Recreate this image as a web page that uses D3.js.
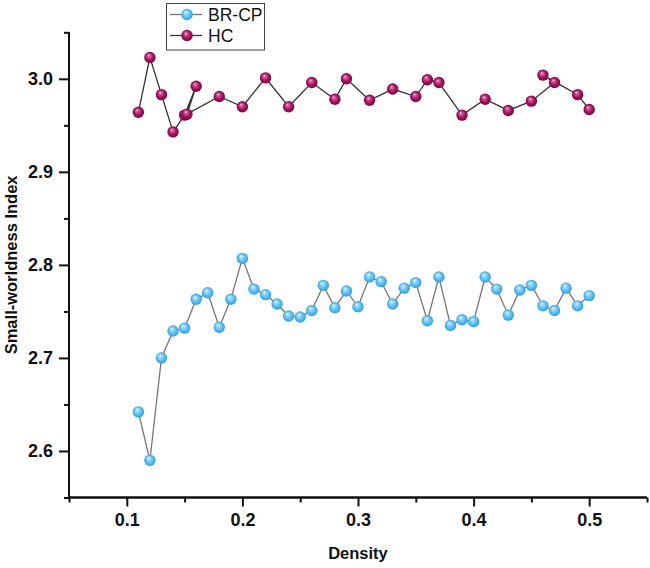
<!DOCTYPE html>
<html>
<head>
<meta charset="utf-8">
<script src="https://cdn.jsdelivr.net/npm/d3@7"></script>
<style>
  html, body { margin: 0; padding: 0; background: #fff; }
  svg { display: block; font-family: "Liberation Sans", Arial, sans-serif; }
</style>
</head>
<body>
<svg id="chart" width="650" height="568"></svg>
<script>
// ---- data ----
const brcpDensity = [0.11,0.12,0.13,0.14,0.15,0.16,0.17,0.18,0.19,0.20,
                     0.21,0.22,0.23,0.24,0.25,0.26,0.27,0.28,0.29,0.30,
                     0.31,0.32,0.33,0.34,0.35,0.36,0.37,0.38,0.39,0.40,
                     0.41,0.42,0.43,0.44,0.45,0.46,0.47,0.48,0.49,0.50];
const brcpValues  = [2.642,2.590,2.700,2.729,2.732,2.763,2.770,2.733,2.763,2.807,
                     2.774,2.768,2.758,2.745,2.744,2.751,2.778,2.754,2.772,2.755,
                     2.787,2.782,2.758,2.775,2.781,2.740,2.787,2.735,2.741,2.739,
                     2.787,2.774,2.746,2.773,2.778,2.756,2.751,2.775,2.756,2.767];
const hcDensity = [0.11,0.12,0.13,0.14,0.15,0.16,0.152,0.18,0.20,0.22,0.24,0.26,
                   0.28,0.29,0.31,0.33,0.35,0.36,0.37,0.39,0.41,0.43,0.45,
                   0.47,0.46,0.49,0.50];
const hcValues  = [2.964,3.023,2.983,2.943,2.961,2.992,2.962,2.981,2.970,3.001,2.970,2.996,
                   2.978,3.000,2.977,2.989,2.981,2.999,2.996,2.961,2.978,2.966,2.976,
                   2.996,3.004,2.983,2.967];
const seriesNames = ["BR-CP", "HC"];
const xTickLabels = [0.1, 0.2, 0.3, 0.4, 0.5];
const yTickLabels = [2.6, 2.7, 2.8, 2.9, 3.0];
const xMinorTicks = [0.05,0.15,0.25,0.35,0.45,0.55];
const yMinorTicks = [2.55,2.65,2.75,2.85,2.95,3.05];

// ---- setup ----
const svg = d3.select("#chart");
const x = d3.scaleLinear().domain([0.05, 0.55]).range([69, 647]);
const y = d3.scaleLinear().domain([2.55, 3.05]).range([497.5, 32.3]);

const defs = svg.append("defs");
function ballGradient(id, hi, mid, edge) {
  const g = defs.append("radialGradient").attr("id", id)
    .attr("cx", "50%").attr("cy", "50%").attr("r", "55%")
    .attr("fx", "38%").attr("fy", "30%");
  g.append("stop").attr("offset", "0%").attr("stop-color", "#ffffff");
  g.append("stop").attr("offset", "18%").attr("stop-color", hi);
  g.append("stop").attr("offset", "60%").attr("stop-color", mid);
  g.append("stop").attr("offset", "100%").attr("stop-color", edge);
}
ballGradient("gBlue", "#a9e0fb", "#58bdf3", "#2f95d8");
ballGradient("gHC", "#d9609e", "#a3125e", "#6a0638");

const series = [
  { name: seriesNames[0], xs: brcpDensity, ys: brcpValues, line: "#7b7474", fill: "url(#gBlue)" },
  { name: seriesNames[1], xs: hcDensity, ys: hcValues, line: "#333333", fill: "url(#gHC)" }
];

// ---- axes ----
const axisColor = "#111";
const xAxis = d3.axisBottom(x).tickValues(xTickLabels).tickSize(9).tickPadding(7)
  .tickFormat(d3.format(".1f"));
const gx = svg.append("g").attr("transform", `translate(0,${y(2.55)})`).call(xAxis);
gx.append("g").call(d3.axisBottom(x).tickValues(xMinorTicks).tickSize(5).tickFormat(""));
gx.selectAll(".domain").attr("d", `M${x(0.05)},0H${x(0.55)}`);

const yAxis = d3.axisLeft(y).tickValues(yTickLabels).tickSize(10).tickPadding(6)
  .tickFormat(d3.format(".1f"));
const gy = svg.append("g").attr("transform", `translate(${x(0.05)},0)`).call(yAxis);
gy.append("g").call(d3.axisLeft(y).tickValues(yMinorTicks).tickSize(5).tickFormat(""));
gy.selectAll(".domain").attr("d", `M0,${y(2.55)}V${y(3.05)}`);

svg.selectAll(".domain").attr("stroke", axisColor).attr("stroke-width", 2);
svg.selectAll(".tick line").attr("stroke", axisColor).attr("stroke-width", 2);
svg.selectAll(".tick text").attr("fill", "#111")
  .style("font-size", "18px").style("font-weight", "bold")
  .style("font-family", "'Liberation Sans', Arial, sans-serif");

// axis titles
svg.append("text").attr("x", (x(0.05) + x(0.55)) / 2).attr("y", 559)
  .attr("text-anchor", "middle").style("font-size", "16.5px").style("font-weight", "bold")
  .attr("fill", "#111").text("Density");
svg.append("text").attr("transform", `translate(17,${(y(2.55) + y(3.05)) / 2}) rotate(-90)`)
  .attr("text-anchor", "middle").style("font-size", "16.5px").style("font-weight", "bold")
  .attr("fill", "#111").text("Small-worldness Index");

// ---- series ----
const r = 5.7;
series.forEach(s => {
  const pts = s.xs.map((d, i) => [d, s.ys[i]]);
  svg.append("path").datum(pts)
    .attr("fill", "none").attr("stroke", s.line).attr("stroke-width", 1.3)
    .attr("d", d3.line().x(d => x(d[0])).y(d => y(d[1])));
  svg.append("g").selectAll("circle").data(pts).join("circle")
    .attr("cx", d => x(d[0])).attr("cy", d => y(d[1])).attr("r", r)
    .attr("fill", s.fill);
});

// ---- legend ----
const lg = svg.append("g");
lg.append("rect").attr("x", 166.5).attr("y", 3.5).attr("width", 98).attr("height", 46.5)
  .attr("fill", "#fff").attr("stroke", "#444").attr("stroke-width", 1);
series.forEach((s, i) => {
  const cy = 14.5 + i * 21;
  lg.append("line").attr("x1", 170).attr("x2", 202).attr("y1", cy).attr("y2", cy)
    .attr("stroke", s.line).attr("stroke-width", 1.3);
  lg.append("circle").attr("cx", 187).attr("cy", cy).attr("r", r).attr("fill", s.fill);
  lg.append("text").attr("x", 208).attr("y", cy + 6.3)
    .style("font-size", "17.5px").attr("fill", "#111").text(s.name);
});
</script>
</body>
</html>
